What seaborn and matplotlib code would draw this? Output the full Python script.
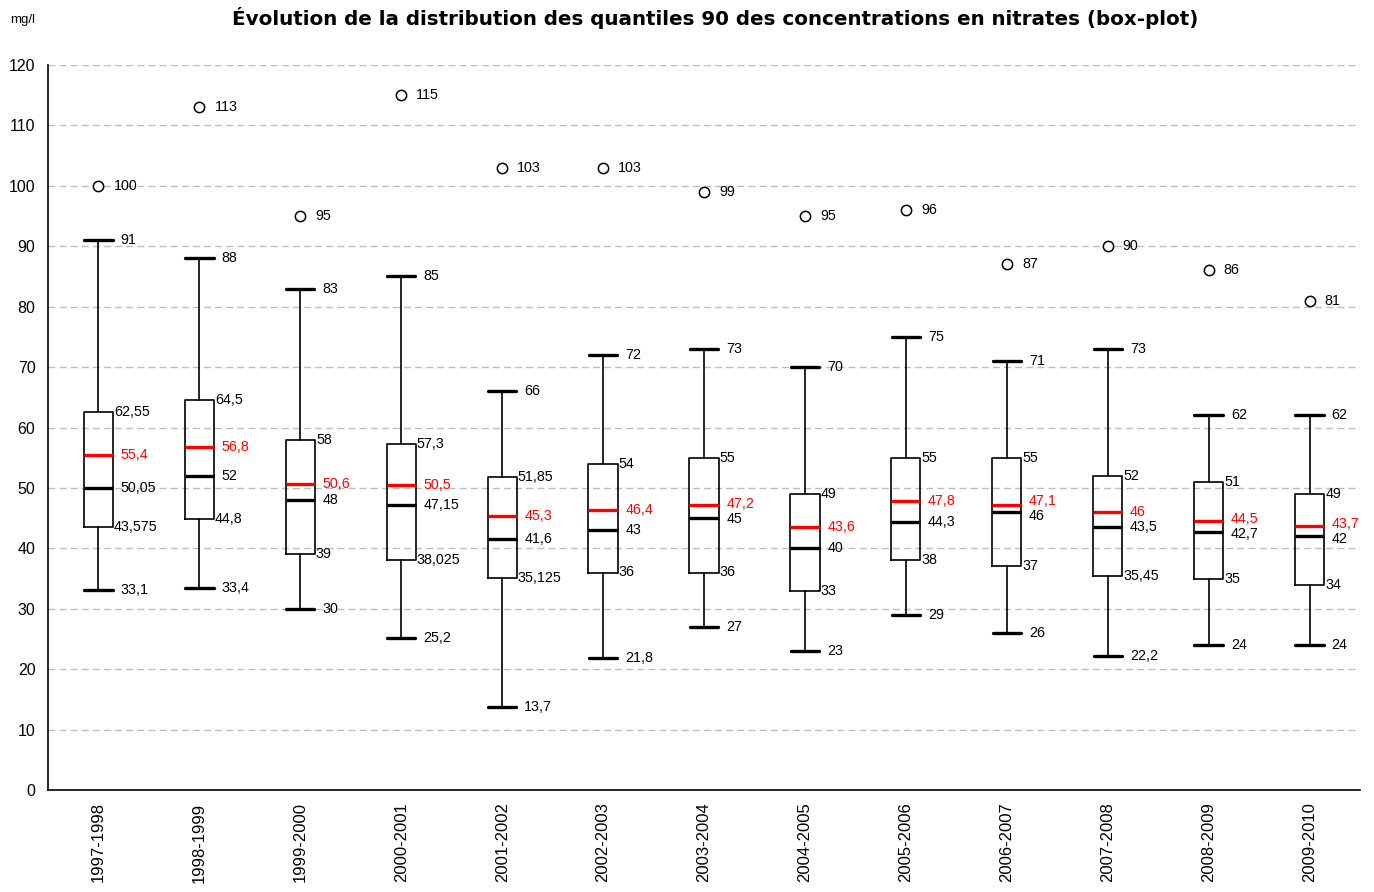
import numpy as np
import pandas as pd
import matplotlib
matplotlib.use("Agg")
import matplotlib.pyplot as plt
import seaborn as sns

categories = ["1997-1998", "1998-1999", "1999-2000", "2000-2001", "2001-2002",
              "2002-2003", "2003-2004", "2004-2005", "2005-2006", "2006-2007",
              "2007-2008", "2008-2009", "2009-2010"]
whisker_low = [33.1, 33.4, 30, 25.2, 13.7, 21.8, 27, 23, 29, 26, 22.2, 24, 24]
q1 = [43.575, 44.8, 39, 38.025, 35.125, 36, 36, 33, 38, 37, 35.45, 35, 34]
median = [50.05, 52, 48, 47.15, 41.6, 43, 45, 40, 44.3, 46, 43.5, 42.7, 42]
mean = [55.4, 56.8, 50.6, 50.5, 45.3, 46.4, 47.2, 43.6, 47.8, 47.1, 46, 44.5, 43.7]
q3 = [62.55, 64.5, 58, 57.3, 51.85, 54, 55, 49, 55, 55, 52, 51, 49]
whisker_high = [91, 88, 83, 85, 66, 72, 73, 70, 75, 71, 73, 62, 62]
outlier = [100, 113, 95, 115, 103, 103, 99, 95, 96, 87, 90, 86, 81]

def fr(v):
    s = ("%g" % v)
    return s.replace(".", ",")

sns.set_style("white")
plt.rcParams["font.family"] = ["Liberation Sans", "DejaVu Sans"]
plt.rcParams["text.color"] = "black"
plt.rcParams["xtick.color"] = "black"
plt.rcParams["ytick.color"] = "black"
plt.rcParams["axes.labelcolor"] = "black"

fig = plt.figure(figsize=(13.74, 8.92), dpi=100)
ax = fig.add_axes([48/1374, 1-790/892, (1360-48)/1374, (790-65)/892])

n = len(categories)
pos = np.arange(n)
stats = []
for i in range(n):
    stats.append(dict(label=categories[i], whislo=whisker_low[i], q1=q1[i], med=median[i],
                      q3=q3[i], whishi=whisker_high[i], mean=mean[i], fliers=[]))

ax.bxp(stats, positions=pos, widths=0.29, capwidths=0.28, showmeans=True, meanline=True,
       showfliers=False,
       boxprops=dict(color="black", linewidth=1.2),
       whiskerprops=dict(color="black", linewidth=1.2),
       capprops=dict(color="black", linewidth=2.4),
       medianprops=dict(color="black", linewidth=2.4),
       meanprops=dict(color="#ff0000", linewidth=2.4, linestyle="-"),
       zorder=3)

df_out = pd.DataFrame({"x": pos, "y": outlier})
sns.scatterplot(data=df_out, x="x", y="y", ax=ax, s=55, marker="o",
                facecolor="white", edgecolor="black", linewidth=1.1, zorder=4)

fs = 10.3
min_gap = 2.5
for i in range(n):
    x = pos[i]
    y_mean, y_med = mean[i], median[i]
    if y_mean - y_med < min_gap:
        c = (y_mean + y_med) / 2
        y_mean = c + min_gap / 2
        y_med = c - min_gap / 2
    ax.text(x + 0.15, outlier[i], fr(outlier[i]), fontsize=fs, va="center", ha="left")
    ax.text(x + 0.22, whisker_high[i], fr(whisker_high[i]), fontsize=fs, va="center", ha="left")
    ax.text(x + 0.22, whisker_low[i], fr(whisker_low[i]), fontsize=fs, va="center", ha="left")
    ax.text(x + 0.155, q3[i], fr(q3[i]), fontsize=fs, va="center", ha="left")
    ax.text(x + 0.155, q1[i], fr(q1[i]), fontsize=fs, va="center", ha="left")
    ax.text(x + 0.22, y_mean, fr(mean[i]), fontsize=fs, va="center", ha="left", color="#ff0000")
    ax.text(x + 0.22, y_med, fr(median[i]), fontsize=fs, va="center", ha="left")

ax.set_xlim(-0.5, n - 0.5)
ax.set_ylim(0, 120)
ax.set_yticks(np.arange(0, 121, 10))
ax.set_yticklabels([str(v) for v in range(0, 121, 10)], fontsize=11.5)
ax.set_xticks(pos)
ax.set_xticklabels(categories, rotation=90, fontsize=12, va="top")
ax.tick_params(axis="x", which="major", length=0, pad=9)
ax.set_xticks(np.arange(n + 1) - 0.5, minor=True)
ax.tick_params(axis="x", which="minor", length=5, width=1.2, direction="out", color="black")
ax.tick_params(axis="y", which="major", length=5, width=1.2, direction="out", color="black", pad=4)
for y in range(10, 121, 10):
    ax.axhline(y, color="#bdbdbd", linestyle=(0, (5, 3)), linewidth=1, zorder=0)
for s in ["top", "right"]:
    ax.spines[s].set_visible(False)
for s in ["left", "bottom"]:
    ax.spines[s].set_color("black")
    ax.spines[s].set_linewidth(1.2)
ax.set_xlabel("")
ax.set_ylabel("")

fig.text(715/1374, 1-18/892, "Évolution de la distribution des quantiles 90 des concentrations en nitrates (box-plot)",
         ha="center", va="center", fontsize=14.3, fontweight="bold", family=["DejaVu Sans"])
fig.text(10/1374, 1-20/892, "mg/l", ha="left", va="center", fontsize=9.5)

fig.savefig("out.png", dpi=100)
